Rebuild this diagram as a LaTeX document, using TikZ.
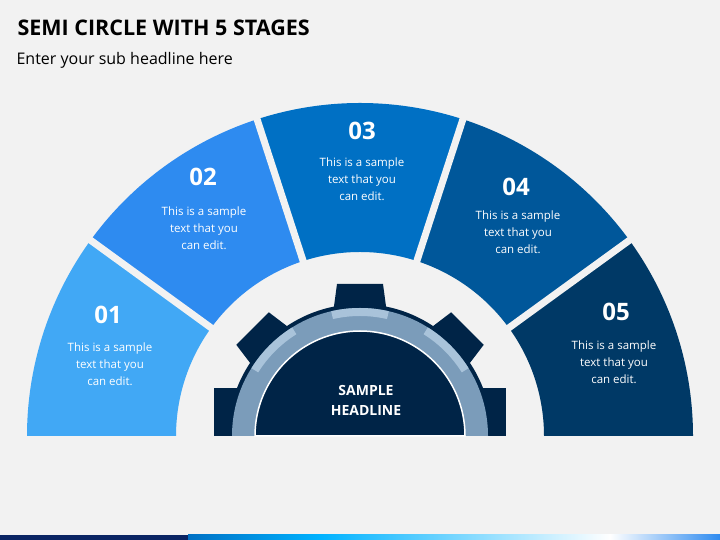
\documentclass[tikz,border=0pt]{standalone}
\usepackage{fontspec}
\setmainfont{Open Sans}
\usetikzlibrary{calc}
\definecolor{bgc}{HTML}{F2F2F2}
\definecolor{segA}{HTML}{41A8F5}
\definecolor{segB}{HTML}{2E8BF0}
\definecolor{segC}{HTML}{0070C4}
\definecolor{segD}{HTML}{00579A}
\definecolor{segE}{HTML}{003966}
\definecolor{gearc}{HTML}{002447}
\definecolor{ringc}{HTML}{7B9CBA}
\definecolor{ringl}{HTML}{A9C3DA}
\definecolor{navy}{HTML}{0A2463}
\tikzset{
  segnum/.style={text=white,font=\bfseries\fontsize{24}{24}\selectfont},
  segtext/.style={text=white,align=center,font=\fontsize{11.5}{17}\selectfont},
  gap/.style={draw=bgc,line width=7pt},
  tooth/.style={fill=gearc}
}
\begin{document}
\begin{tikzpicture}[x=1pt,y=1pt]
\fill[bgc] (0,0) rectangle (720,540);
\useasboundingbox (0,0) rectangle (720,540);
% title
\node[anchor=west,font=\bfseries\fontsize{21.5}{21.5}\selectfont,text=black] (title) at (14,512) {SEMI CIRCLE WITH 5 STAGES};
\node[anchor=west,font=\fontsize{16}{16}\selectfont,text=black] (sub) at (13,480) {Enter your sub headline here};
% segments
\coordinate (c) at (360,104);
\foreach \i/\col in {0/segA,1/segB,2/segC,3/segD,4/segE}{
  \pgfmathsetmacro\a{180-36*\i}
  \pgfmathsetmacro\b{180-36*(\i+1)}
  \fill[\col] ($(c)+(\a:333)$) arc[start angle=\a,end angle=\b,radius=333]
    -- ($(c)+(\b:184)$) arc[start angle=\b,end angle=\a,radius=184] -- cycle;
}
\foreach \g in {36,72,108,144}
  \draw[gap] ($(c)+(\g:175)$) -- ($(c)+(\g:340)$);
% gear
\foreach \t in {45,90,135}
  \fill[tooth,rotate around={\t-90:(c)}] ($(c)+(-30,100)$) -- ($(c)+(30,100)$) -- ($(c)+(23,152)$) -- ($(c)+(-23,152)$) -- cycle;
\fill[tooth] (214,104) rectangle (250,152);
\fill[tooth] (506,104) rectangle (470,152);
\fill[tooth] ($(c)+(-132,0)$) arc[start angle=180,end angle=0,radius=132] -- cycle;
\fill[ringc] ($(c)+(-128,0)$) arc[start angle=180,end angle=0,radius=128] -- cycle;
\foreach \t in {45,90,135}
  \fill[ringl] ($(c)+(\t-13:128)$) arc[start angle=\t-13,end angle=\t+13,radius=128]
    -- ($(c)+(\t+13:120)$) arc[start angle=\t+13,end angle=\t-13,radius=120] -- cycle;
\fill[gearc,draw=white,line width=1.5pt] ($(c)+(-105,0)$) arc[start angle=180,end angle=0,radius=105] -- cycle;
\node[text=white,align=center,font=\bfseries\fontsize{14}{20}\selectfont] (head) at (366,140) {SAMPLE\\HEADLINE};
% labels
\node[segnum] (n1) at (108,225) {01};
\node[segtext] (t1) at (110,176) {This is a sample\\text that you\\can edit.};
\node[segnum] (n2) at (203,363) {02};
\node[segtext] (t2) at (204,312) {This is a sample\\text that you\\can edit.};
\node[segnum] (n3) at (362,409) {03};
\node[segtext] (t3) at (362,361) {This is a sample\\text that you\\can edit.};
\node[segnum] (n4) at (516,353) {04};
\node[segtext] (t4) at (518,308) {This is a sample\\text that you\\can edit.};
\node[segnum] (n5) at (616,228) {05};
\node[segtext] (t5) at (614,178) {This is a sample\\text that you\\can edit.};
% bottom strip
\fill[navy] (0,0) rectangle (188,5);
\shade[left color=segC,right color=cyan!70!blue] (188,0) rectangle (320,5);
\shade[left color=cyan!70!blue,right color=white] (320,0) rectangle (610,5);
\shade[left color=white,right color=segB] (610,0) rectangle (720,5);
\end{tikzpicture}
\end{document}
